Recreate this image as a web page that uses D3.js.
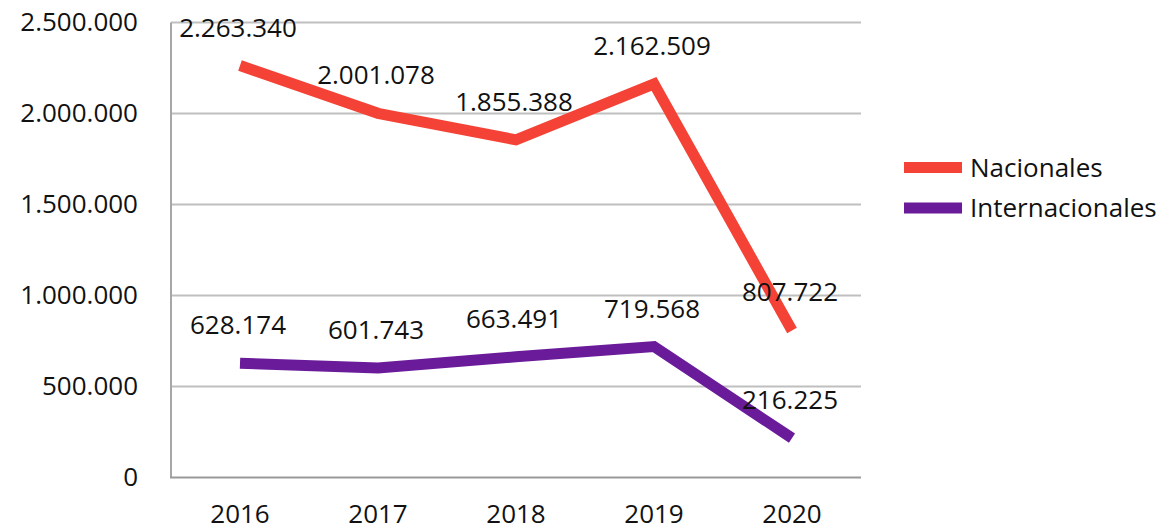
<!DOCTYPE html>
<html><head><meta charset="utf-8">
<script src="https://cdn.jsdelivr.net/npm/d3@7"></script>
<style>
html,body{margin:0;padding:0;background:#fff;}
svg{display:block;font-family:"Open Sans",sans-serif;}
</style></head>
<body><svg id="c" width="1165" height="531"></svg>
<script>
const years = ["2016","2017","2018","2019","2020"];
const nacionales = [2263340, 2001078, 1855388, 2162509, 807722];
const internacionales = [628174, 601743, 663491, 719568, 216225];
const yTicks = [0, 500000, 1000000, 1500000, 2000000, 2500000];
const seriesNames = ["Nacionales", "Internacionales"];
const seriesColors = ["#f44336", "#6a1b9a"];

(function () {
const svg = d3.select("#c");
const pL = 171, pR = 861, pT = 22.5, pB = 477.5;
const x = d3.scaleBand().domain(years).range([pL, pR]);
const y = d3.scaleLinear().domain([0, 2500000]).range([pB, pT]);
const fmt = v => d3.format(",")(v).replace(/,/g, ".");

// gridlines
svg.append("g").selectAll("line").data(yTicks.filter(d => d > 0)).join("line")
  .attr("x1", pL).attr("x2", pR)
  .attr("y1", d => y(d)).attr("y2", d => y(d))
  .attr("stroke", "#bfbfbf").attr("stroke-width", 2);

// y axis line
svg.append("line").attr("x1", pL).attr("x2", pL).attr("y1", pT).attr("y2", pB)
  .attr("stroke", "#a6a6a6").attr("stroke-width", 2);
// x axis line
svg.append("line").attr("x1", pL - 1).attr("x2", pR).attr("y1", pB).attr("y2", pB)
  .attr("stroke", "#999").attr("stroke-width", 2);

// y tick labels
const yAxis = d3.axisLeft(y).tickValues(yTicks).tickFormat(fmt).tickSize(0).tickPadding(33);
const ya = svg.append("g").attr("transform", `translate(${pL},0)`).call(yAxis);
ya.select(".domain").remove();
ya.selectAll("text").attr("font-size", 26).attr("fill", "#111").attr("font-family", "Open Sans, sans-serif");

// x tick labels
const xAxis = d3.axisBottom(x).tickSize(0).tickPadding(27);
const xa = svg.append("g").attr("transform", `translate(0,${pB})`).call(xAxis);
xa.select(".domain").remove();
xa.selectAll("text").attr("font-size", 26).attr("fill", "#111").attr("font-family", "Open Sans, sans-serif");

const series = [nacionales, internacionales];
const line = d3.line().x((d, i) => x(years[i]) + x.bandwidth() / 2).y(d => y(d));
series.forEach((s, k) => {
  svg.append("path").datum(s).attr("d", line)
    .attr("fill", "none").attr("stroke", seriesColors[k]).attr("stroke-width", 11)
    .attr("stroke-linejoin", "miter").attr("stroke-linecap", "butt");
});
series.forEach((s, k) => {
  svg.append("g").selectAll("text").data(s).join("text")
    .attr("x", (d, i) => x(years[i]) + x.bandwidth() / 2 - 2)
    .attr("y", d => y(d) - 29)
    .attr("text-anchor", "middle").attr("font-size", 26).attr("fill", "#111")
    .text(fmt);
});

// legend
const lg = svg.append("g");
seriesNames.forEach((n, k) => {
  const cy = 167.5 + k * 40.5;
  lg.append("line").attr("x1", 904).attr("x2", 962).attr("y1", cy).attr("y2", cy)
    .attr("stroke", seriesColors[k]).attr("stroke-width", 11);
  lg.append("text").attr("x", 970).attr("y", cy + 9).attr("font-size", 26).attr("fill", "#111")
    .text(n);
});
})();
</script></body></html>
